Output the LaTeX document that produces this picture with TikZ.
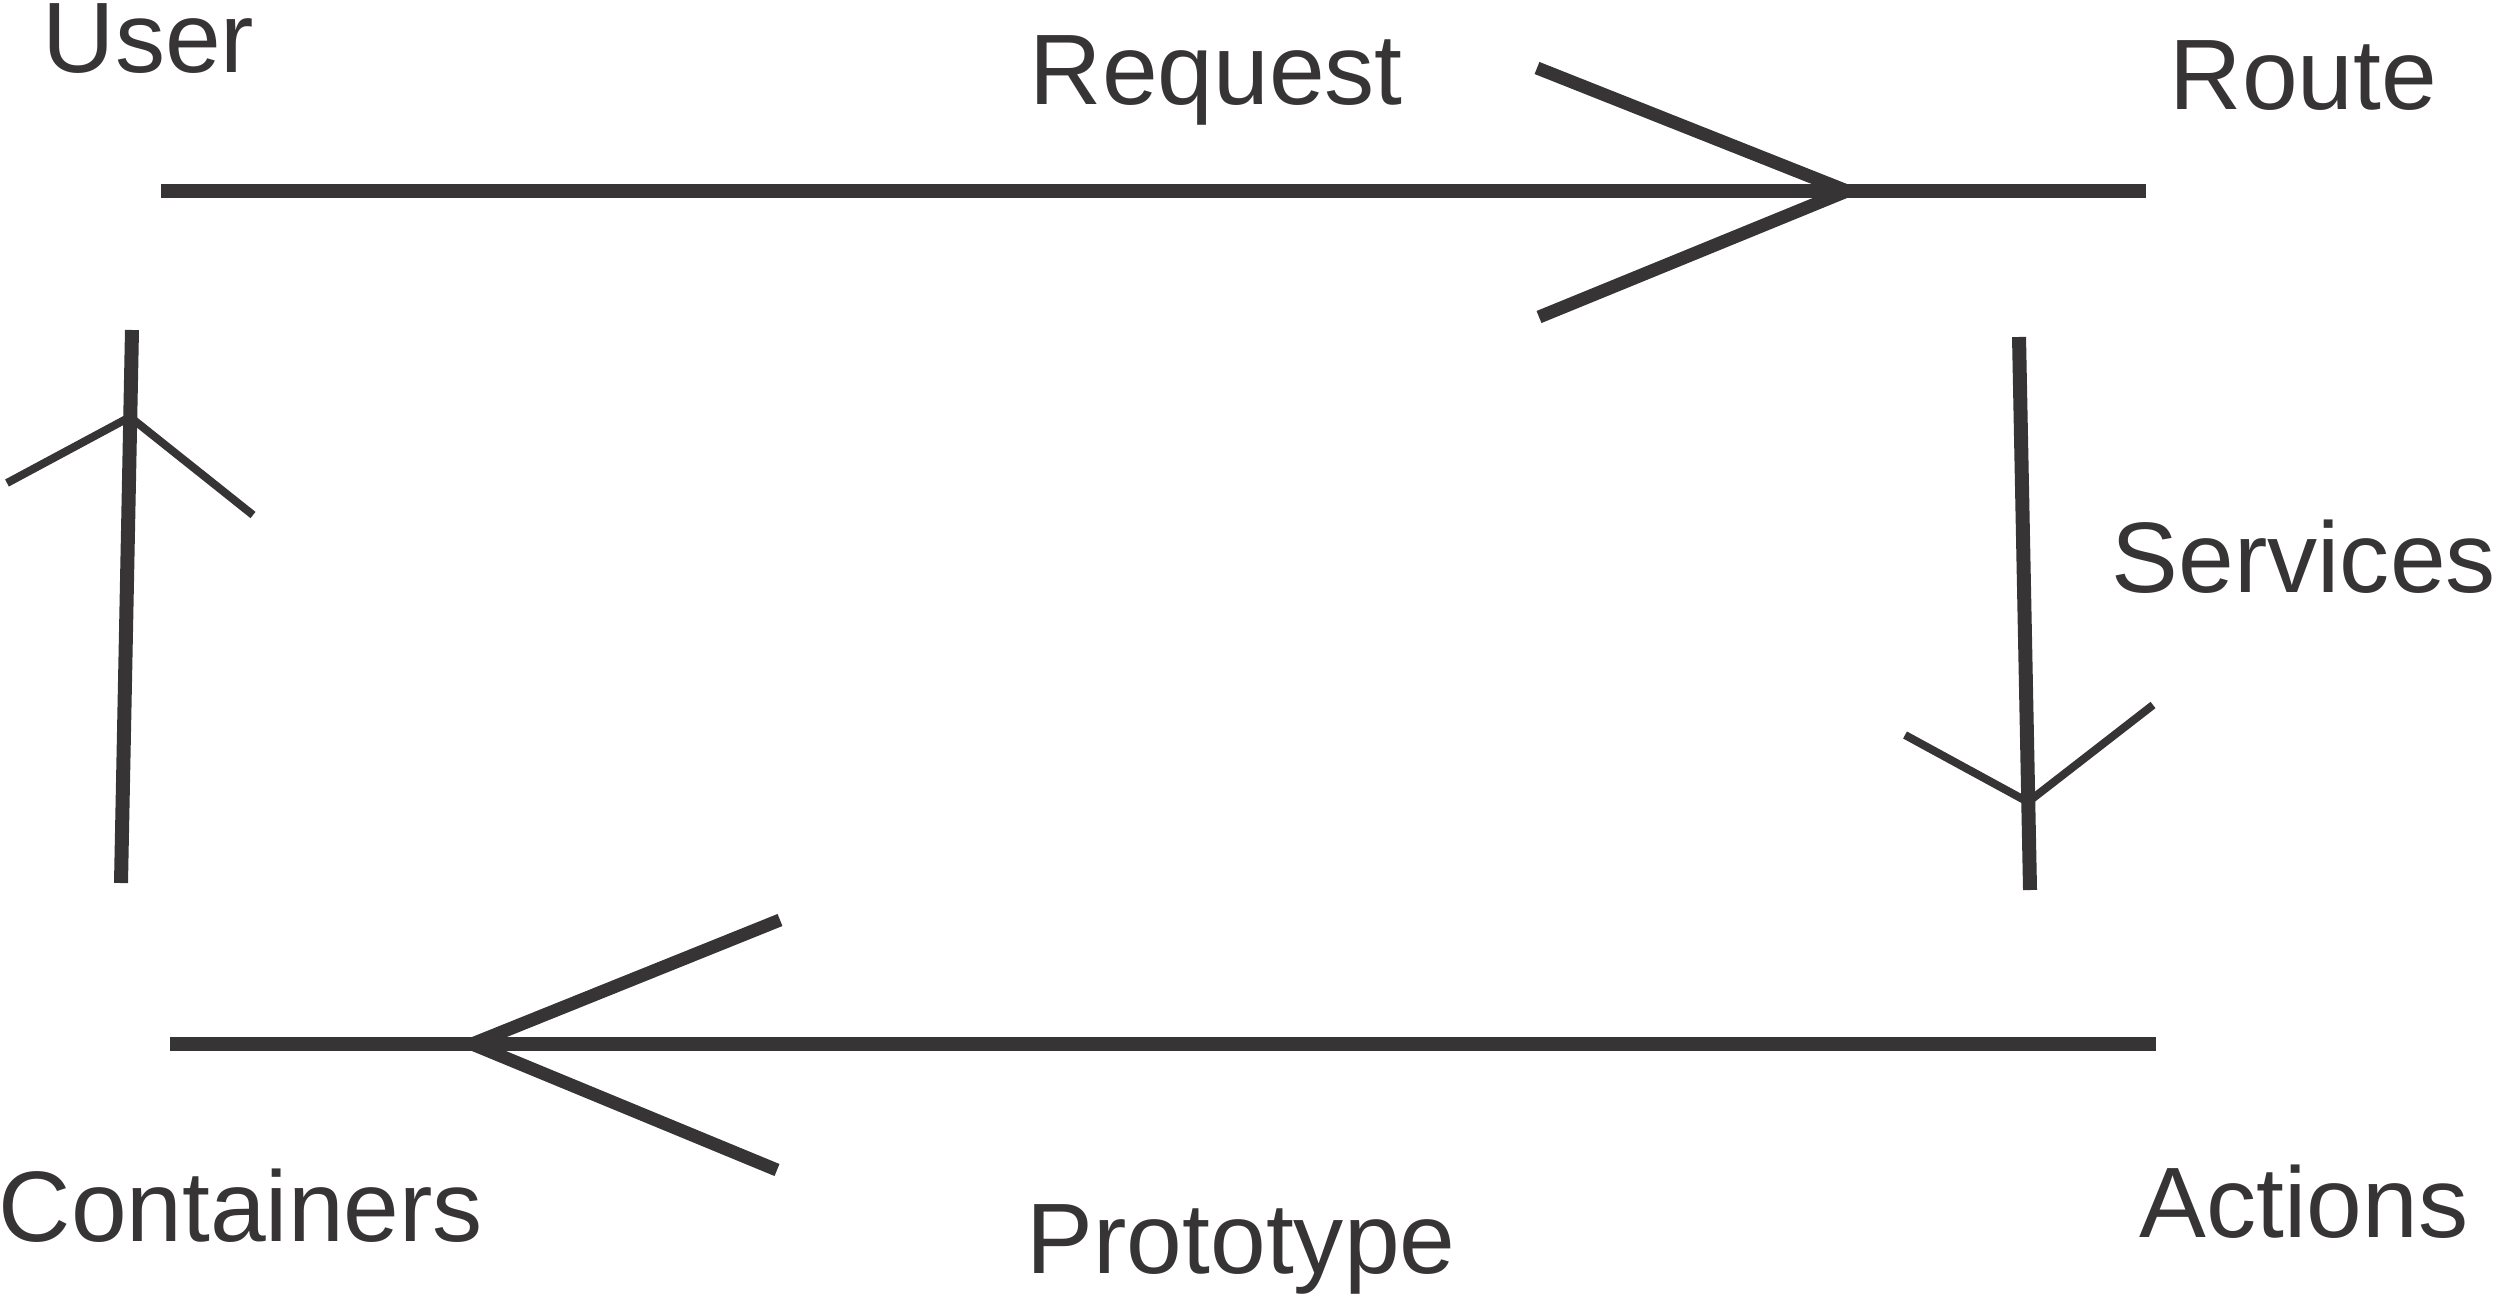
\documentclass[tikz,border=0pt]{standalone}
\usepackage{fontspec}
\setmainfont{Liberation Sans}
\definecolor{flowdark}{HTML}{363435}

\begin{document}
\begin{tikzpicture}[
  lbl/.style={color=flowdark,inner sep=0pt,anchor=base west,font=\fontsize{28.5}{34}\selectfont},
  shaft/.style={draw=flowdark,line width=0.14cm},
  barb/.style={draw=flowdark,line width=0.13cm},
  thinbarb/.style={draw=flowdark,line width=0.08cm}]
\useasboundingbox (0,0) rectangle (24.95,12.95);
% labels
\node[lbl] (user) at (0.42,12.22) {User};
\node[lbl] (req) at (10.29,11.90) {Request};
\node[lbl] (route) at (21.69,11.85) {Route};
\node[lbl] (serv) at (21.11,7.03) {Services};
\node[lbl] (act) at (21.39,0.58) {Actions};
\node[lbl] (proto) at (10.26,0.22) {Prototype};
\node[lbl] (cont) at (-0.02,0.54) {Containers};
% top: user -> route
\coordinate (t1) at (1.61,11.04);  \coordinate (t2) at (21.46,11.04);
\coordinate (tt) at (18.47,11.04); \coordinate (ta) at (15.37,12.27); \coordinate (tb) at (15.39,9.78);
\draw[shaft] (t1) -- (t2);
\draw[barb] (ta) -- (tt) -- (tb);
% right: route -> actions
\coordinate (r1) at (20.19,9.58);  \coordinate (r2) at (20.30,4.05);
\coordinate (rt) at (20.28,4.93);  \coordinate (ra) at (19.05,5.60); \coordinate (rb) at (21.53,5.90);
\draw[shaft] (r1) -- (r2);
\draw[thinbarb] (ra) -- (rt) -- (rb);
% bottom: actions -> containers
\coordinate (b1) at (21.56,2.51);  \coordinate (b2) at (1.70,2.51);
\coordinate (bt) at (4.72,2.51);   \coordinate (ba) at (7.80,3.75); \coordinate (bb) at (7.77,1.25);
\draw[shaft] (b1) -- (b2);
\draw[barb] (ba) -- (bt) -- (bb);
% left: containers -> user
\coordinate (l1) at (1.21,4.12);   \coordinate (l2) at (1.32,9.65);
\coordinate (lt) at (1.30,8.78);   \coordinate (la) at (0.07,8.12); \coordinate (lb) at (2.53,7.80);
\draw[shaft] (l1) -- (l2);
\draw[thinbarb] (la) -- (lt) -- (lb);
\end{tikzpicture}
\end{document}
